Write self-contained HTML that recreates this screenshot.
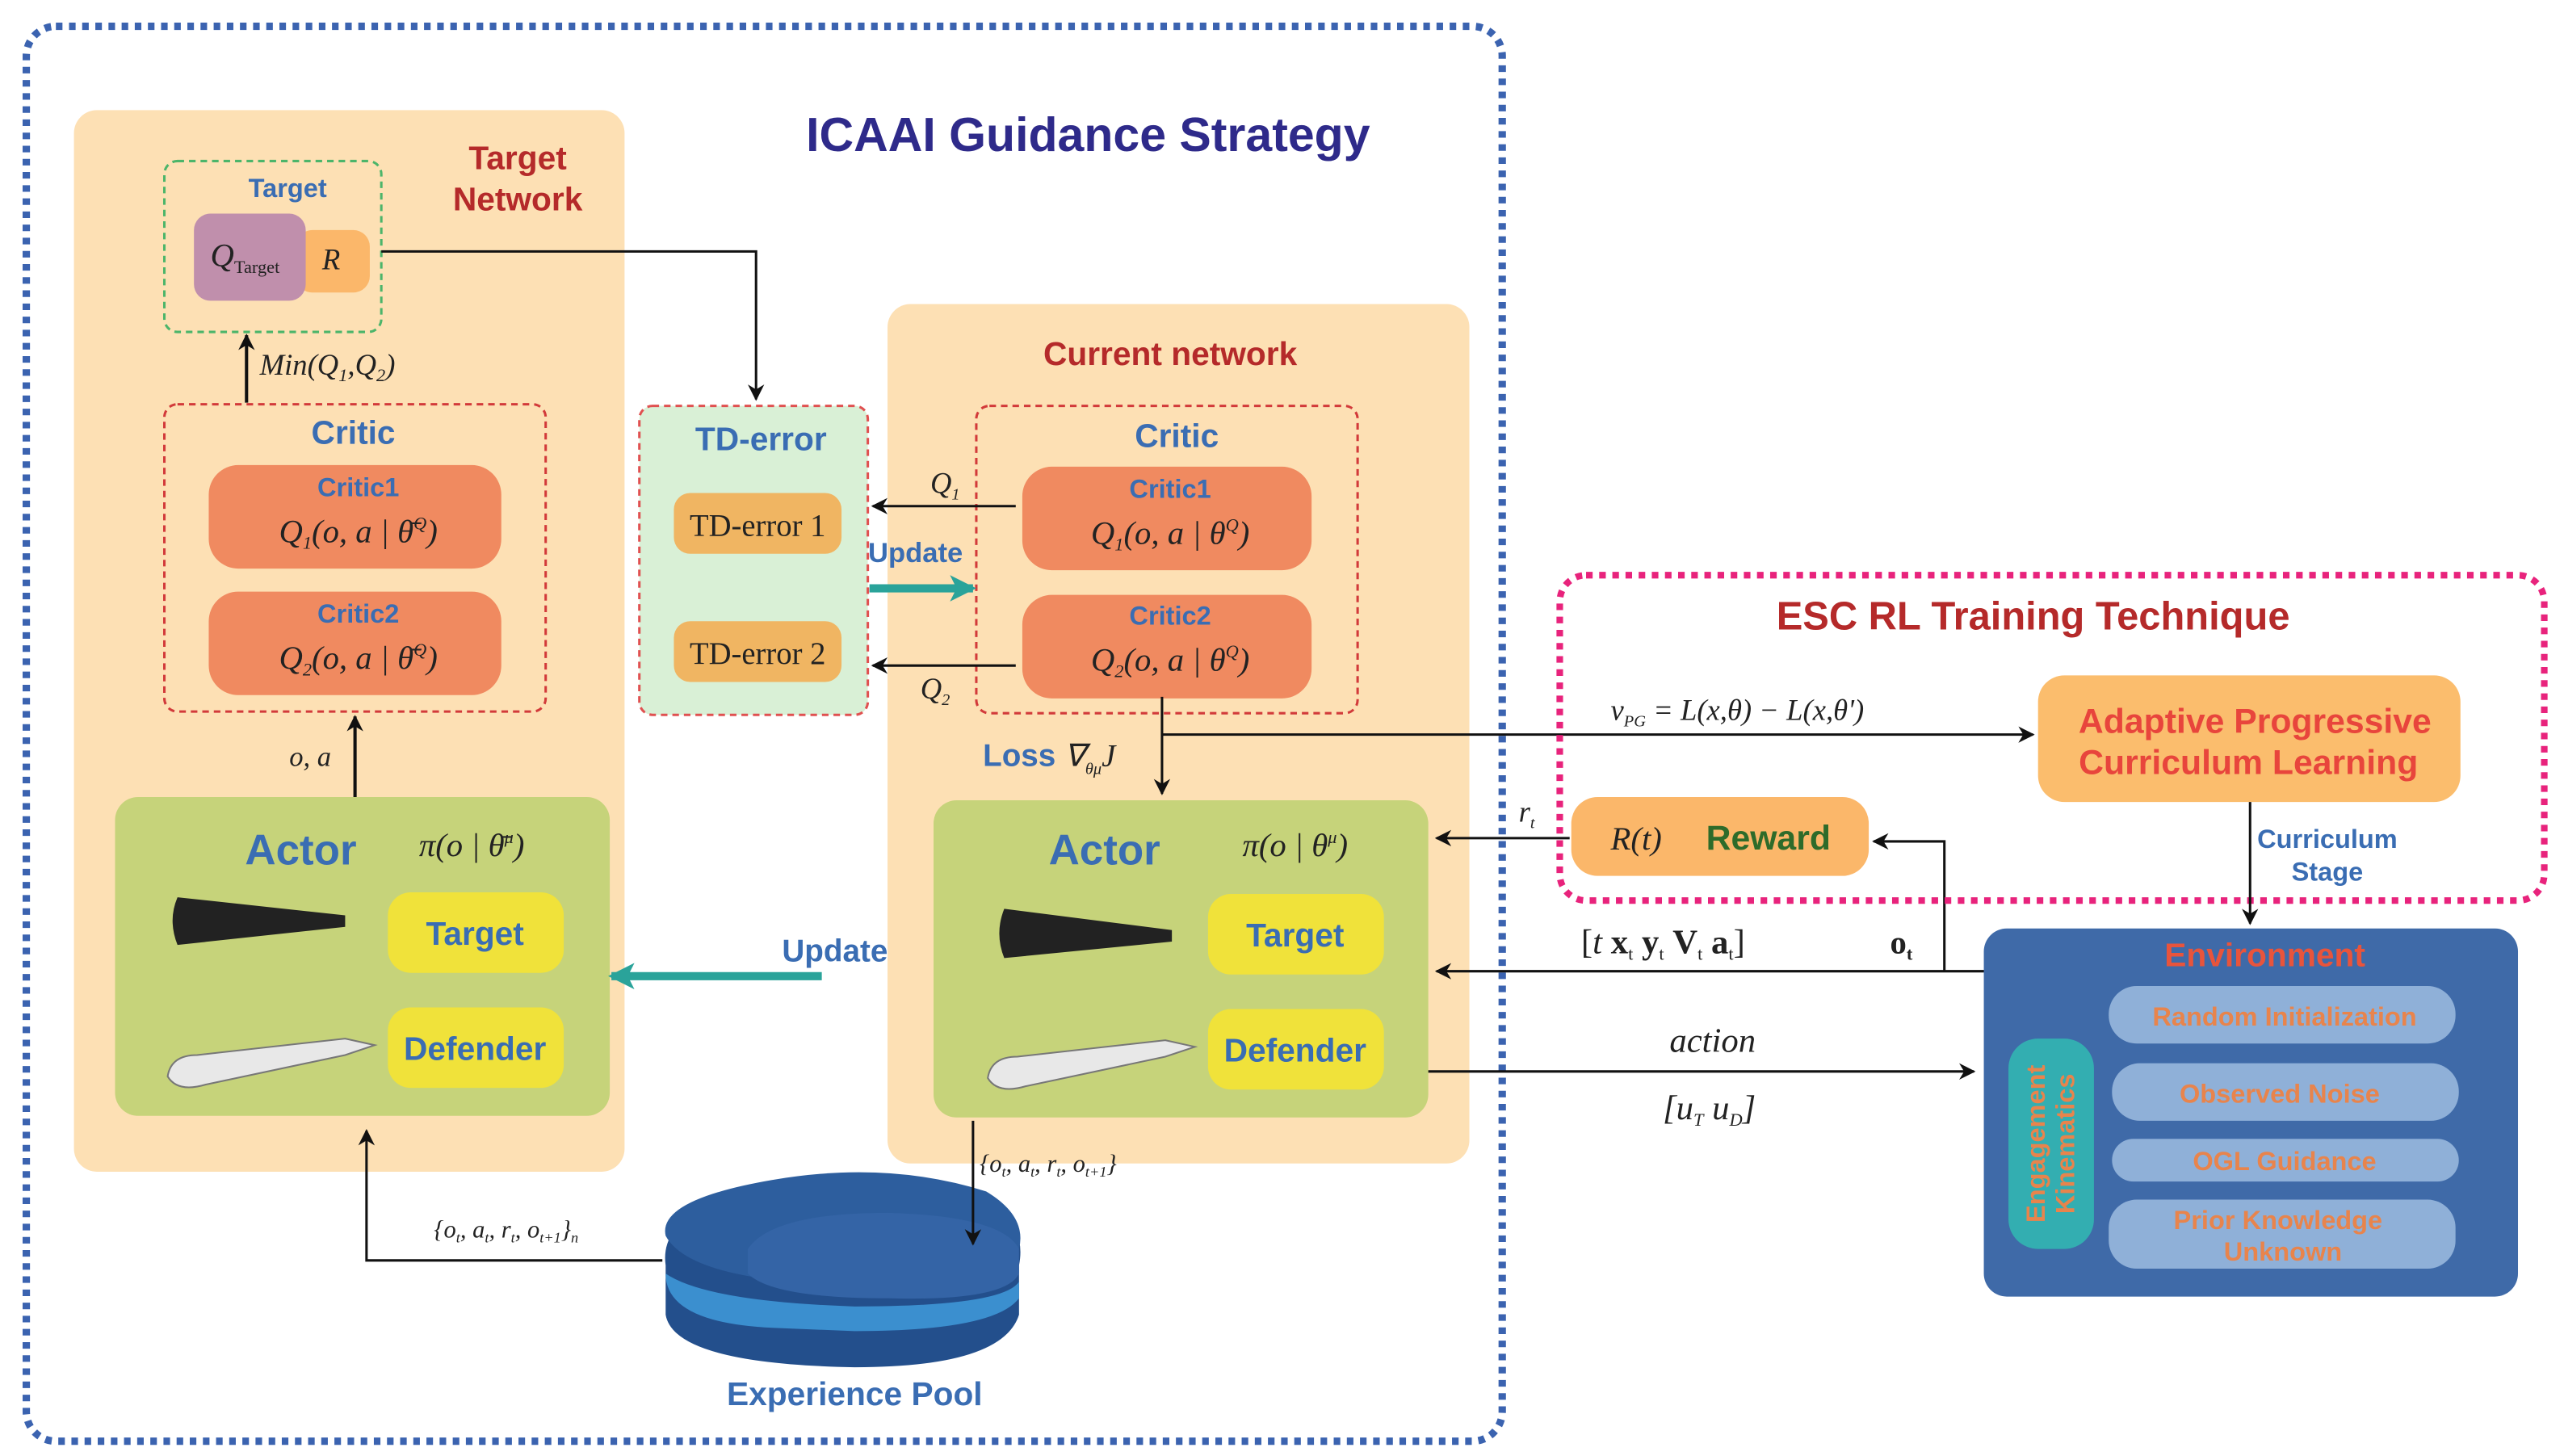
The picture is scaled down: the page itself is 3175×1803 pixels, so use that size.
<!DOCTYPE html>
<html><head><meta charset="utf-8"><style>
html,body{margin:0;padding:0;background:#fff}
svg{display:block}
.s{font-family:"Liberation Sans",sans-serif;font-weight:bold}
.m{font-family:"Liberation Serif",serif;font-style:italic}
</style></head><body>
<svg width="3175" height="1803" viewBox="0 0 1560 886" preserveAspectRatio="none" xmlns="http://www.w3.org/2000/svg">
<defs>
<marker id="a" markerWidth="10" markerHeight="10" refX="9" refY="5" orient="auto" markerUnits="userSpaceOnUse"><path d="M0,0 L10,5 L0,10 L3,5z" fill="#111"/></marker>
<marker id="t" markerWidth="16" markerHeight="16" refX="14" refY="8" orient="auto" markerUnits="userSpaceOnUse"><path d="M0,0 L16,8 L0,16 L4,8z" fill="#2aa39a"/></marker>
</defs>
<rect width="1560" height="886" fill="#fff"/>
<rect x="16" y="16" width="898" height="861" rx="18" fill="none" stroke="#3b63b0" stroke-width="4.5" stroke-dasharray="4,4"/>
<text x="662" y="92" class="s" font-size="29" fill="#2e2a8a" text-anchor="middle">ICAAI Guidance Strategy</text>
<rect x="45" y="67" width="335" height="646" rx="14" fill="#fde0b4"/>
<text x="315" y="103" class="s" font-size="20" fill="#b52a2a" text-anchor="middle">Target</text>
<text x="315" y="128" class="s" font-size="20" fill="#b52a2a" text-anchor="middle">Network</text>
<rect x="100" y="98" width="132" height="104" rx="8" fill="none" stroke="#4cb56a" stroke-width="1.5" stroke-dasharray="4,3"/>
<text x="175" y="120" class="s" font-size="16" fill="#3a6db3" text-anchor="middle">Target</text>
<rect x="180" y="140" width="45" height="38" rx="10" fill="#fbb76a"/>
<rect x="118" y="130" width="68" height="53" rx="10" fill="#c08fac"/>
<text x="128" y="162" class="m" font-size="20" fill="#222">Q<tspan font-size="11" font-style="normal" dy="4">Target</tspan></text>
<text x="196" y="164" class="m" font-size="18" fill="#222">R</text>
<path d="M232,153 H460 V243" fill="none" stroke="#111" stroke-width="1.5" marker-end="url(#a)"/>
<path d="M150,245 V204" fill="none" stroke="#111" stroke-width="2" marker-end="url(#a)"/>
<text x="158" y="228" class="m" font-size="18" fill="#222">Min(Q<tspan font-size="11" dy="4">1</tspan><tspan dy="-4">,Q</tspan><tspan font-size="11" dy="4">2</tspan><tspan dy="-4">)</tspan></text>
<rect x="100" y="246" width="232" height="187" rx="8" fill="none" stroke="#d23a3a" stroke-width="1.5" stroke-dasharray="4,3"/>
<text x="215" y="270" class="s" font-size="20" fill="#3a6db3" text-anchor="middle">Critic</text>
<rect x="127" y="283" width="178" height="63" rx="18" fill="#f08a60"/>
<rect x="127" y="360" width="178" height="63" rx="18" fill="#f08a60"/>
<text x="218" y="302" class="s" font-size="16" fill="#3a6db3" text-anchor="middle">Critic1</text>
<text x="218" y="330" class="m" font-size="20" fill="#222" text-anchor="middle">Q<tspan font-size="11" dy="4">1</tspan><tspan dy="-4">(o, a | θ̄</tspan><tspan font-size="11" dy="-8">Q</tspan><tspan dy="8">)</tspan></text>
<text x="218" y="379" class="s" font-size="16" fill="#3a6db3" text-anchor="middle">Critic2</text>
<text x="218" y="407" class="m" font-size="20" fill="#222" text-anchor="middle">Q<tspan font-size="11" dy="4">2</tspan><tspan dy="-4">(o, a | θ̄</tspan><tspan font-size="11" dy="-8">Q</tspan><tspan dy="8">)</tspan></text>
<path d="M216,485 V436" fill="none" stroke="#111" stroke-width="2" marker-end="url(#a)"/>
<text x="176" y="466" class="m" font-size="17" fill="#222">o, a</text>
<rect x="70" y="485" width="301" height="194" rx="14" fill="#c6d37a"/>
<text x="183" y="526" class="s" font-size="26" fill="#3a6db3" text-anchor="middle">Actor</text>
<text x="287" y="521" class="m" font-size="20" fill="#222" text-anchor="middle">π(o | θ̄<tspan font-size="11" dy="-8">μ</tspan><tspan dy="8">)</tspan></text>
<path d="M108,546 Q102,560 108,575 L210,564 L210,557z" fill="#222"/>
<rect x="236" y="543" width="107" height="49" rx="14" fill="#f0e23a"/>
<text x="289" y="575" class="s" font-size="20" fill="#3a6db3" text-anchor="middle">Target</text>
<rect x="236" y="613" width="107" height="49" rx="14" fill="#f0e23a"/>
<text x="289" y="645" class="s" font-size="20" fill="#3a6db3" text-anchor="middle">Defender</text>
<path d="M102,655 Q104,642 120,642 L210,632 L228,636 L210,642 L125,660 Q108,665 102,655z" fill="#e8e8e8" stroke="#777" stroke-width="1"/>
<path d="M500,594 H372" fill="none" stroke="#2aa39a" stroke-width="5" marker-end="url(#t)"/>
<text x="508" y="585" class="s" font-size="19" fill="#3a6db3" text-anchor="middle">Update</text>
<rect x="389" y="247" width="139" height="188" rx="8" fill="#d9f0d6" stroke="#e05050" stroke-width="1.5" stroke-dasharray="4,3"/>
<text x="463" y="274" class="s" font-size="20" fill="#3a6db3" text-anchor="middle">TD-error</text>
<rect x="410" y="300" width="102" height="37" rx="10" fill="#f0b562"/>
<rect x="410" y="378" width="102" height="37" rx="10" fill="#f0b562"/>
<text x="461" y="326" font-family="Liberation Serif,serif" font-size="19" fill="#222" text-anchor="middle">TD-error 1</text>
<text x="461" y="404" font-family="Liberation Serif,serif" font-size="19" fill="#222" text-anchor="middle">TD-error 2</text>
<rect x="540" y="185" width="354" height="523" rx="14" fill="#fde0b4"/>
<text x="712" y="222" class="s" font-size="20" fill="#b52a2a" text-anchor="middle">Current network</text>
<rect x="594" y="247" width="232" height="187" rx="8" fill="none" stroke="#d23a3a" stroke-width="1.5" stroke-dasharray="4,3"/>
<text x="716" y="272" class="s" font-size="20" fill="#3a6db3" text-anchor="middle">Critic</text>
<rect x="622" y="284" width="176" height="63" rx="18" fill="#f08a60"/>
<rect x="622" y="362" width="176" height="63" rx="18" fill="#f08a60"/>
<text x="712" y="303" class="s" font-size="16" fill="#3a6db3" text-anchor="middle">Critic1</text>
<text x="712" y="331" class="m" font-size="20" fill="#222" text-anchor="middle">Q<tspan font-size="11" dy="4">1</tspan><tspan dy="-4">(o, a | θ</tspan><tspan font-size="11" dy="-8">Q</tspan><tspan dy="8">)</tspan></text>
<text x="712" y="380" class="s" font-size="16" fill="#3a6db3" text-anchor="middle">Critic2</text>
<text x="712" y="408" class="m" font-size="20" fill="#222" text-anchor="middle">Q<tspan font-size="11" dy="4">2</tspan><tspan dy="-4">(o, a | θ</tspan><tspan font-size="11" dy="-8">Q</tspan><tspan dy="8">)</tspan></text>
<path d="M618,308 H531" fill="none" stroke="#111" stroke-width="1.5" marker-end="url(#a)"/>
<path d="M618,405 H531" fill="none" stroke="#111" stroke-width="1.5" marker-end="url(#a)"/>
<text x="566" y="300" class="m" font-size="18" fill="#222">Q<tspan font-size="10" dy="4">1</tspan></text>
<text x="560" y="425" class="m" font-size="18" fill="#222">Q<tspan font-size="10" dy="4">2</tspan></text>
<path d="M529,358 H592" fill="none" stroke="#2aa39a" stroke-width="5" marker-end="url(#t)"/>
<text x="557" y="342" class="s" font-size="17" fill="#3a6db3" text-anchor="middle">Update</text>
<path d="M707,424 V483" fill="none" stroke="#111" stroke-width="1.5" marker-end="url(#a)"/>
<text x="598" y="466" class="s" font-size="19" fill="#3a6db3">Loss <tspan class="m" fill="#222" font-weight="normal">∇<tspan font-size="10" dy="5">θμ</tspan><tspan dy="-5">J</tspan></tspan></text>
<path d="M707,447 H1237" fill="none" stroke="#111" stroke-width="1.5" marker-end="url(#a)"/>
<text x="980" y="438" class="m" font-size="18" fill="#222">v<tspan font-size="10" dy="4">PG</tspan><tspan dy="-4"> = L(x,θ) − L(x,θ')</tspan></text>
<rect x="568" y="487" width="301" height="193" rx="14" fill="#c6d37a"/>
<text x="672" y="526" class="s" font-size="26" fill="#3a6db3" text-anchor="middle">Actor</text>
<text x="788" y="521" class="m" font-size="20" fill="#222" text-anchor="middle">π(o | θ<tspan font-size="11" dy="-8">μ</tspan><tspan dy="8">)</tspan></text>
<path d="M611,553 Q605,568 611,583 L713,573 L713,566z" fill="#222"/>
<rect x="735" y="544" width="107" height="49" rx="14" fill="#f0e23a"/>
<text x="788" y="576" class="s" font-size="20" fill="#3a6db3" text-anchor="middle">Target</text>
<rect x="735" y="614" width="107" height="49" rx="14" fill="#f0e23a"/>
<text x="788" y="646" class="s" font-size="20" fill="#3a6db3" text-anchor="middle">Defender</text>
<path d="M601,656 Q603,643 619,643 L709,633 L727,637 L709,643 L624,661 Q607,666 601,656z" fill="#e8e8e8" stroke="#777" stroke-width="1"/>
<path d="M955,510 H874" fill="none" stroke="#111" stroke-width="1.5" marker-end="url(#a)"/>
<text x="924" y="500" class="m" font-size="18" fill="#222">r<tspan font-size="10" dy="4">t</tspan></text>
<path d="M1208,591 H874" fill="none" stroke="#111" stroke-width="1.5" marker-end="url(#a)"/>
<path d="M1183,591 V512 H1140" fill="none" stroke="#111" stroke-width="1.5" marker-end="url(#a)"/>
<text x="962" y="580" font-family="Liberation Serif,serif" font-size="21" fill="#222">[<tspan font-style="italic">t</tspan>  <tspan font-weight="bold">x</tspan><tspan font-size="11" dy="4">t</tspan><tspan dy="-4">  </tspan><tspan font-weight="bold">y</tspan><tspan font-size="11" dy="4">t</tspan><tspan dy="-4">  </tspan><tspan font-weight="bold">V</tspan><tspan font-size="11" dy="4">t</tspan><tspan dy="-4">  </tspan><tspan font-weight="bold">a</tspan><tspan font-size="11" dy="4">t</tspan><tspan dy="-4">]</tspan></text>
<text x="1150" y="580" font-family="Liberation Serif,serif" font-weight="bold" font-size="20" fill="#222">o<tspan font-size="11" dy="4">t</tspan></text>
<path d="M869,652 H1201" fill="none" stroke="#111" stroke-width="1.5" marker-end="url(#a)"/>
<text x="1042" y="640" class="m" font-size="21" fill="#222" text-anchor="middle">action</text>
<text x="1040" y="681" class="m" font-size="21" fill="#222" text-anchor="middle">[u<tspan font-size="11" dy="4">T</tspan><tspan dy="-4">  u</tspan><tspan font-size="11" dy="4">D</tspan><tspan dy="-4">]</tspan></text>
<!-- experience pool -->
<path d="M405,770 Q400,735 470,722 Q540,708 600,730 Q625,745 620,770 L620,800 Q610,832 520,832 Q410,830 405,800z" fill="#234f8c"/>
<path d="M405,775 Q405,805 470,808 L520,810 Q605,810 620,790 L620,780 Q610,795 520,795 Q430,792 405,775z" fill="#3b8fcf"/>
<path d="M405,752 Q400,730 470,718 Q540,706 600,725 Q625,740 620,760 Q612,782 520,782 Q420,780 405,752z" fill="#2d5e9e"/>
<path d="M455,760 Q470,738 540,738 Q610,740 620,760 L620,775 Q612,792 540,790 Q470,790 455,775z" fill="#3464a6"/>
<path d="M592,682 V757" fill="none" stroke="#111" stroke-width="1.5" marker-end="url(#a)"/>
<text x="596" y="713" class="m" font-size="15" fill="#222">{o<tspan font-size="9" dy="3">t</tspan><tspan dy="-3">, a</tspan><tspan font-size="9" dy="3">t</tspan><tspan dy="-3">, r</tspan><tspan font-size="9" dy="3">t</tspan><tspan dy="-3">, o</tspan><tspan font-size="9" dy="3">t+1</tspan><tspan dy="-3">}</tspan></text>
<path d="M403,767 H223 V688" fill="none" stroke="#111" stroke-width="1.5" marker-end="url(#a)"/>
<text x="264" y="753" class="m" font-size="15" fill="#222">{o<tspan font-size="9" dy="3">t</tspan><tspan dy="-3">, a</tspan><tspan font-size="9" dy="3">t</tspan><tspan dy="-3">, r</tspan><tspan font-size="9" dy="3">t</tspan><tspan dy="-3">, o</tspan><tspan font-size="9" dy="3">t+1</tspan><tspan dy="-3">}</tspan><tspan font-size="9" dy="3">n</tspan></text>
<text x="520" y="855" class="s" font-size="20" fill="#3a6db3" text-anchor="middle">Experience Pool</text>
<!-- ESC -->
<rect x="949" y="350" width="599" height="198" rx="16" fill="none" stroke="#e8237c" stroke-width="4" stroke-dasharray="4,4"/>
<text x="1237" y="383" class="s" font-size="24" fill="#b52a2a" text-anchor="middle">ESC RL Training Technique</text>
<rect x="1240" y="411" width="257" height="77" rx="16" fill="#fbbd6d"/>
<text x="1372" y="446" class="s" font-size="21" fill="#e8453c" text-anchor="middle">Adaptive Progressive</text>
<text x="1368" y="471" class="s" font-size="21" fill="#e8453c" text-anchor="middle">Curriculum Learning</text>
<rect x="956" y="485" width="181" height="48" rx="16" fill="#fbb76a"/>
<text x="980" y="517" class="m" font-size="20" fill="#222">R(t)</text>
<text x="1038" y="517" class="s" font-size="21" fill="#2e6b2a">Reward</text>
<path d="M1369,488 V562" fill="none" stroke="#111" stroke-width="1.5" marker-end="url(#a)"/>
<text x="1416" y="516" class="s" font-size="16" fill="#3a6db3" text-anchor="middle">Curriculum</text>
<text x="1416" y="536" class="s" font-size="16" fill="#3a6db3" text-anchor="middle">Stage</text>
<rect x="1207" y="565" width="325" height="224" rx="14" fill="#3f6aa8"/>
<text x="1378" y="588" class="s" font-size="20" fill="#e8543c" text-anchor="middle">Environment</text>
<rect x="1283" y="600" width="211" height="35" rx="17" fill="#8fb0d8"/>
<rect x="1285" y="647" width="211" height="35" rx="17" fill="#8fb0d8"/>
<rect x="1285" y="693" width="211" height="26" rx="13" fill="#8fb0d8"/>
<rect x="1283" y="730" width="211" height="42" rx="17" fill="#8fb0d8"/>
<text x="1390" y="624" class="s" font-size="16" fill="#e8844c" text-anchor="middle">Random Initialization</text>
<text x="1387" y="671" class="s" font-size="16" fill="#e8844c" text-anchor="middle">Observed Noise</text>
<text x="1390" y="712" class="s" font-size="16" fill="#e8844c" text-anchor="middle">OGL Guidance</text>
<text x="1386" y="748" class="s" font-size="16" fill="#e8844c" text-anchor="middle">Prior Knowledge</text>
<text x="1389" y="767" class="s" font-size="16" fill="#e8844c" text-anchor="middle">Unknown</text>
<rect x="1222" y="632" width="52" height="128" rx="18" fill="#33aeb1"/>
<text transform="translate(1244,696) rotate(-90)" class="s" font-size="16" fill="#e8844c" text-anchor="middle">Engagement</text>
<text transform="translate(1262,696) rotate(-90)" class="s" font-size="16" fill="#e8844c" text-anchor="middle">Kinematics</text>
</svg>
</body></html>
